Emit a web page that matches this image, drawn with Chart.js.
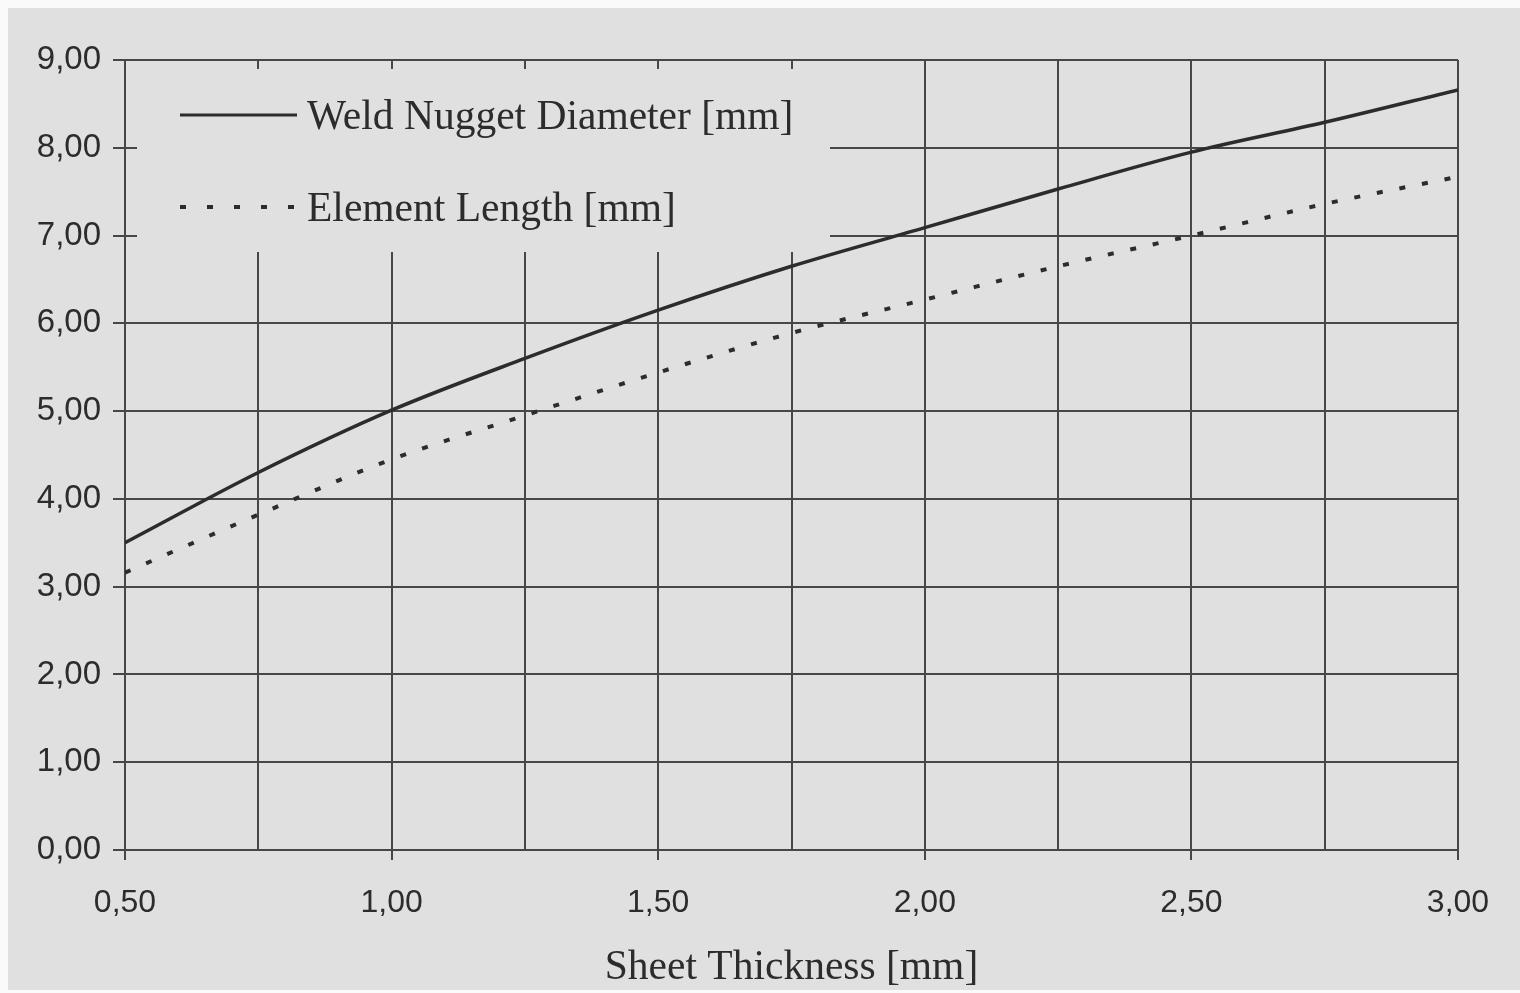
<!DOCTYPE html>
<html>
<head>
<meta charset="utf-8">
<script src="https://cdn.jsdelivr.net/npm/chart.js@4.4.0/dist/chart.umd.min.js"></script>
<style>
  html, body { margin:0; padding:0; background:#fafafa; }
  #wrap { position:absolute; left:8px; top:8px; width:1512px; height:982px; background:#e0e0e0; }
</style>
</head>
<body>
<div id="wrap"><canvas id="chart" width="1512" height="982"></canvas></div>
<script>
// Sheet thickness [mm] (x) and the two curves
var thickness = [0.50, 0.75, 1.00, 1.25, 1.50, 1.75, 2.00, 2.25, 2.50, 2.75, 3.00];
var nuggetDiameter = [3.50, 4.30, 5.01, 5.60, 6.15, 6.65, 7.09, 7.53, 7.95, 8.29, 8.66];
var elementLength = [3.16, 3.82, 4.45, 4.95, 5.44, 5.89, 6.27, 6.65, 7.00, 7.36, 7.67];
var seriesNames = ["Weld Nugget Diameter [mm]", "Element Length [mm]"];
var xTitle = "Sheet Thickness [mm]";

var ink = "#2c2c2c";
var gridInk = "#474747";
var paper = "#e0e0e0";

function pairs(xs, ys){
  var out = [];
  for(var i in xs){ out.push({x:xs[i], y:ys[i]}); }
  return out;
}

function comma(v){ return Number(v).toFixed(2).replace(".", ","); }

// legend sits inside the plot on an opaque patch, like the original
var insideLegend = {
  id:"insideLegend",
  beforeDatasetsDraw:function(chart){
    var ctx = chart.ctx;
    var a = chart.chartArea;
    ctx.save();
    ctx.fillStyle = paper;
    ctx.fillRect(a.left + 12, a.top + 9, 822 - (a.left + 12), 244 - (a.top + 9));

    var rows = [107, 199];
    ctx.strokeStyle = ink;
    ctx.lineWidth = 3;
    ctx.beginPath();
    ctx.moveTo(172, rows[0]); ctx.lineTo(289, rows[0]);
    ctx.stroke();

    ctx.lineWidth = 4;
    ctx.setLineDash([6, 21]);
    ctx.beginPath();
    ctx.moveTo(172, rows[1]); ctx.lineTo(289, rows[1]);
    ctx.stroke();
    ctx.setLineDash([]);

    ctx.fillStyle = ink;
    ctx.font = "41.5px 'Liberation Serif'";
    ctx.textBaseline = "middle";
    ctx.textAlign = "left";
    ctx.fillText(seriesNames[0], 299, rows[0] + 3);
    ctx.fillText(seriesNames[1], 299, rows[1] + 3);
    ctx.restore();
  }
};

new Chart(document.getElementById("chart"), {
  type:"line",
  data:{
    datasets:[
      {
        label:seriesNames[0],
        data:pairs(thickness, nuggetDiameter),
        borderColor:ink,
        borderWidth:3.5,
        pointRadius:0,
        cubicInterpolationMode:"monotone"
      },
      {
        label:seriesNames[1],
        data:pairs(thickness, elementLength),
        borderColor:ink,
        borderWidth:4,
        borderDash:[6, 17],
        pointRadius:0,
        cubicInterpolationMode:"monotone"
      }
    ]
  },
  options:{
    responsive:false,
    devicePixelRatio:1,
    animation:false,
    layout:{ padding:{ left:0, top:52, right:62, bottom:0 } },
    plugins:{ legend:{ display:false }, tooltip:{ enabled:false } },
    scales:{
      x:{
        type:"linear",
        min:0.5,
        max:3.0,
        afterFit:function(s){ s.height = 140; },
        border:{ color:gridInk, width:2 },
        grid:{
          color:gridInk,
          lineWidth:2,
          tickLength:10,
          tickColor:function(c){
            return (c.tick && Math.abs(c.tick.value * 2 - Math.round(c.tick.value * 2)) < 1e-6) ? gridInk : "rgba(0,0,0,0)";
          }
        },
        ticks:{
          stepSize:0.25,
          padding:24,
          maxRotation:0,
          autoSkip:false,
          color:ink,
          font:{ family:"'Liberation Sans'", size:32 },
          callback:function(v){
            return Math.abs(v * 2 - Math.round(v * 2)) < 1e-6 ? comma(v) : "";
          }
        },
        title:{
          display:true,
          text:xTitle,
          color:ink,
          font:{ family:"'Liberation Serif'", size:41.5, lineHeight:1.0 },
          padding:{ top:0, bottom:1 }
        }
      },
      y:{
        min:0,
        max:9,
        afterFit:function(s){ s.width = 117; },
        border:{ color:gridInk, width:2 },
        grid:{ color:gridInk, lineWidth:2, tickLength:12, tickColor:gridInk },
        ticks:{
          stepSize:1,
          padding:12,
          color:ink,
          font:{ family:"'Liberation Sans'", size:33 },
          callback:function(v){ return comma(v); }
        }
      }
    }
  },
  plugins:[insideLegend]
});
</script>
</body>
</html>
